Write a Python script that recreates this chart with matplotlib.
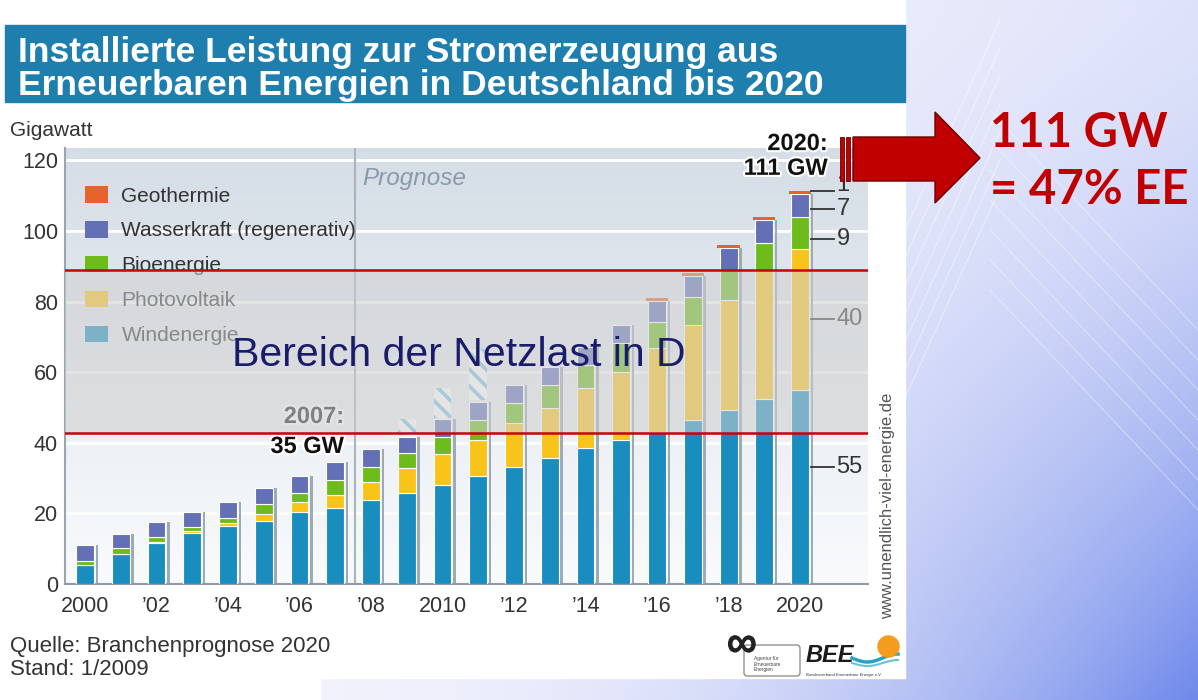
import matplotlib.pyplot as plt
import matplotlib.patheffects as pe
from matplotlib.patches import Rectangle, Polygon, FancyBboxPatch
import numpy as np

plt.rcParams['font.family'] = ['Liberation Sans', 'DejaVu Sans']
plt.rcParams['hatch.linewidth'] = 2.6
plt.rcParams['hatch.color'] = '#7cc3e3'

W, H = 1198, 700

# --- data (GW) ---
years = np.arange(2000, 2021)
wind = [5.4, 8.4, 11.5, 14.4, 16.4, 17.8, 20.3, 21.6, 23.8, 25.9, 28.0,
        30.6, 33.1, 35.7, 38.5, 40.8, 43.1, 46.5, 49.3, 52.4, 55.0]
pv = [0.1, 0.2, 0.4, 0.5, 1.0, 2.0, 3.0, 3.6, 5.2, 6.9, 8.8,
      10.2, 12.5, 14.2, 17.0, 19.3, 23.8, 26.9, 31.2, 36.6, 40.0]
bio = [1.1, 1.5, 1.5, 1.3, 1.4, 2.9, 2.4, 4.3, 4.2, 4.2, 4.8,
       5.7, 5.7, 6.5, 6.5, 8.2, 7.3, 7.9, 8.5, 7.6, 9.0]
hydro = [4.4, 4.0, 4.2, 4.1, 4.5, 4.4, 5.0, 5.1, 4.9, 4.7, 5.1,
         5.1, 5.1, 5.1, 5.1, 5.1, 6.0, 6.0, 6.2, 6.5, 6.6]
geo = [0, 0, 0, 0, 0, 0, 0, 0, 0, 0, 0,
       0, 0, 0, 0, 0, 0.7, 0.8, 0.8, 0.9, 0.8]
hatched = [0, 0, 0, 0, 0, 0, 0, 0, 0, 4.5, 8.3,
           14.7, 0, 0, 0, 0, 0, 0, 0, 0, 0]

series_names = ['Windenergie', 'Photovoltaik', 'Bioenergie',
                'Wasserkraft (regenerativ)', 'Geothermie']
colors = ['#1a8dbf', '#f8c41a', '#6ebc1c', '#6470b6', '#e8622c']

xtick_years = years[::2]
xtick_labels = ['2000', '’02', '’04', '’06', '’08', '2010',
                '’12', '’14', '’16', '’18', '2020']
yticks = [0, 20, 40, 60, 80, 100, 120]

load_low, load_high = 42.8, 89.0   # Bereich der Netzlast
prognose_start = 2007.55


def fx(x):
    return x / W


def fy(y):
    return 1 - y / H


fig = plt.figure(figsize=(W / 100, H / 100), dpi=100)

# slide background
bg = fig.add_axes([0, 0, 1, 1], zorder=-1)
bg.set_xlim(0, W)
bg.set_ylim(H, 0)
bg.axis('off')
xx, yy = np.meshgrid(np.linspace(0, W, 300), np.linspace(0, 1, 175))
xr = np.clip((xx - 300) / 898, 0, 1)
t = np.clip((0.15 + 0.85 * yy ** 1.5) * xr ** 2, 0, 1)
c0 = np.array([0.95, 0.95, 0.99])
c1 = np.array([0.44, 0.54, 0.92])
bg.imshow(c0 + (c1 - c0) * t[..., None], extent=[0, W, H, 0], aspect='auto')
for k in range(7):
    bg.plot([905, 1000], [230 + 28 * k, 20 + 28 * k], color='white', lw=0.8, alpha=0.45)
    bg.plot([990, 1198], [110 + 30 * k, 330 + 30 * k], color='white', lw=0.8, alpha=0.35)
bg.add_patch(Rectangle((0, 0), 905, 678, color='white'))
bg.add_patch(Rectangle((0, 678), 320, 22, color='white'))
bg.add_patch(Rectangle((5, 25), 900, 77, color='#1e7fae'))

# title
fig.text(fx(18), fy(62), 'Installierte Leistung zur Stromerzeugung aus',
         color='white', fontsize=25.5, fontweight='bold', va='baseline')
fig.text(fx(18), fy(95), 'Erneuerbaren Energien in Deutschland bis 2020',
         color='white', fontsize=25.5, fontweight='bold', va='baseline')

# main chart
ax = fig.add_axes([fx(65), fy(584), (868 - 65) / W, (584 - 148) / H])
ax.patch.set_visible(False)
grad = np.linspace(0, 1, 100)[:, None]
top_c = np.array([0.835, 0.866, 0.902])
bot_c = np.array([0.975, 0.982, 0.99])
ax.imshow((top_c + (bot_c - top_c) * grad[..., None]) * np.ones((1, 2, 1)),
          extent=[0, 1, 0, 1], transform=ax.transAxes, aspect='auto', zorder=0)

bottom = np.zeros(len(years))
for vals, col in zip([wind, pv, bio, hydro], colors[:4]):
    ax.bar(years, vals, 0.5, bottom=bottom, color=col,
           edgecolor='white', linewidth=0.8, zorder=3)
    bottom += np.array(vals)
ax.bar(years + 0.33, bottom, 0.07, color='#9da9b5', zorder=2.5)
ax.bar(years, geo, 0.62, bottom=bottom, color=colors[4], linewidth=0, zorder=3)
ax.bar(years, hatched, 0.5, bottom=bottom + 0.4, color='white',
       edgecolor='#7cc3e3', hatch='\\\\', linewidth=0, zorder=3)
totals = bottom + np.array(geo)

ax.axvline(prognose_start, color='#a9b4bf', lw=1.5, zorder=1)
ax.text(prognose_start + 0.2, 113, 'Prognose', fontsize=17.5, style='italic',
        color='#8a9aab', va='baseline', zorder=2)

ax.set_xlim(1999.44, 2021.9)
ax.set_ylim(0, 123.5)
ax.set_yticks(yticks)
ax.set_xticks(xtick_years)
ax.set_xticklabels(xtick_labels)
ax.yaxis.grid(True, color='white', lw=2)
ax.set_axisbelow(True)
ax.tick_params(length=0, labelsize=15.5, colors='#333333')
ax.tick_params(axis='x', pad=8.5)
ax.tick_params(axis='y', pad=5)
for s in ['top', 'right']:
    ax.spines[s].set_visible(False)
ax.spines['left'].set_color('#9aa5b0')
ax.spines['bottom'].set_color('#8f9aa5')
ax.spines['left'].set_linewidth(1.5)
ax.spines['bottom'].set_linewidth(1.5)
fig.text(fx(10), fy(130), 'Gigawatt', fontsize=15, color='#333333', va='center')

handles = [Rectangle((0, 0), 1, 1, facecolor=c, edgecolor='none') for c in colors[::-1]]
leg = ax.legend(handles, series_names[::-1], loc='upper left',
                bbox_to_anchor=(fx(85), fy(186)), bbox_transform=fig.transFigure,
                frameon=False, fontsize=15, handlelength=1.1, handleheight=0.85,
                handletextpad=0.65, labelspacing=0.74, borderpad=0, borderaxespad=0)
leg.set_zorder(4)
for txt in leg.get_texts():
    txt.set_color('#333333')

halo = [pe.withStroke(linewidth=3, foreground='white')]
i07 = list(years).index(2007)
ax.text(2007.25, 45.6, '2007:', fontsize=17, fontweight='bold', color='#222222',
        ha='right', va='baseline', zorder=5, path_effects=halo)
ax.text(2007.25, 37.1, f'{totals[i07]:.0f} GW', fontsize=17, fontweight='bold',
        color='#111111', ha='right', va='baseline', zorder=5, path_effects=halo)
ax.text(2020.78, 122.9, '2020:', fontsize=17, fontweight='bold', color='#111111',
        ha='right', va='baseline', zorder=8, path_effects=halo)
ax.text(2020.78, 115.9, f'{totals[-1]:.0f} GW', fontsize=17, fontweight='bold',
        color='#111111', ha='right', va='baseline', zorder=8, path_effects=halo)

# leader labels for 2020
last = [wind[-1], pv[-1], bio[-1], hydro[-1], geo[-1]]
fracs = [0.6, 0.5, 0.3, 0.35, 1.0]
base = 0
for v, f in zip(last, fracs):
    ly = base + v * f
    ax.plot([2020.3, 2020.95], [ly, ly], color='#333333', lw=1.3, zorder=5, clip_on=False)
    ty = ly + 1.6 if f == 1.0 else ly
    ax.text(2021.02, ty, f'{v:.0f}', fontsize=17, color='#333333',
            va='center', ha='left', zorder=5, clip_on=False)
    base += v

# Netzlast band
ax.axhspan(load_low, load_high, color='#cfcfcf', alpha=0.55, lw=0, zorder=6)
ax.axhline(load_low, color='#c8000a', lw=1.8, zorder=7)
ax.axhline(load_high, color='#c8000a', lw=1.8, zorder=7)
fig.text(fx(232), fy(366), 'Bereich der Netzlast in D', fontsize=29.5,
         color='#1b1b6b', va='baseline')

# red arrow
arrow_px = [(853, 137), (935, 137), (935, 112), (980, 158), (935, 203), (935, 181), (853, 181)]
fig.add_artist(Polygon([(fx(x), fy(y)) for x, y in arrow_px], closed=True,
                       transform=fig.transFigure, facecolor='#c00000',
                       edgecolor='#6b0000', lw=1, zorder=10))
for x0 in (840, 846):
    fig.add_artist(Rectangle((fx(x0), fy(181)), 4 / W, 44 / H, transform=fig.transFigure,
                             facecolor='#c00000', edgecolor='#6b0000', lw=0.6, zorder=10))
fig.text(fx(990), fy(147), f'{totals[-1]:.0f} GW', fontsize=34, fontweight='bold',
         color='#c00000', family='Lato', va='baseline')
fig.text(fx(990), fy(204), '= 47% EE', fontsize=34, fontweight='bold',
         color='#c00000', family='Lato', va='baseline')

# footer
fig.text(fx(10), fy(652), 'Quelle: Branchenprognose 2020', fontsize=16,
         color='#333333', va='baseline')
fig.text(fx(10), fy(675), 'Stand: 1/2009', fontsize=16, color='#333333', va='baseline')
fig.text(fx(888), fy(506), 'www.unendlich-viel-energie.de', fontsize=12,
         color='#555555', rotation=90, ha='center', va='center')

# logos
bg.add_patch(FancyBboxPatch((744, 645), 56, 31, boxstyle='round,pad=0,rounding_size=3',
                            facecolor='white', edgecolor='#777777', lw=0.8))
bg.text(727, 656, '∞', fontsize=30, color='#222222', va='baseline',
        path_effects=[pe.withStroke(linewidth=1.2, foreground='#222222')])
bg.text(754, 664, 'Agentur für\nErneuerbare\nEnergien', fontsize=3.5,
        color='#444444', va='center', linespacing=1.1)
bg.text(806, 662, 'BEE', fontsize=17, fontweight='bold', style='italic',
        color='#1a1a1a', va='baseline')
bg.scatter([888], [646], s=230, color='#f39c1d', zorder=3)
wx = np.linspace(852, 898, 40)
bg.plot(wx, 658 + 4 * np.sin((wx - 852) / 46 * np.pi * 1.5), color='#29a3c6', lw=2.5)
bg.plot(wx, 663 + 3 * np.sin((wx - 852) / 46 * np.pi * 1.5), color='#6cc1d8', lw=1.5)
bg.text(806, 675, 'Bundesverband Erneuerbare Energie e.V.', fontsize=3,
        color='#333333', va='center')

fig.savefig('out.png', dpi=100)
